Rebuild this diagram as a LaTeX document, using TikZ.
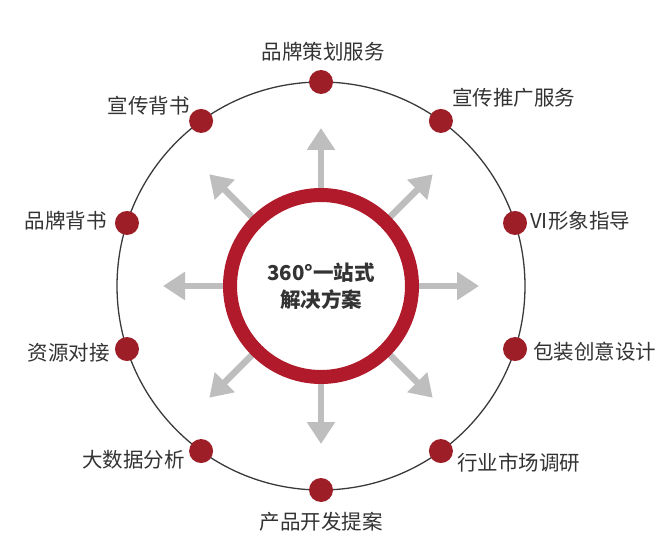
\documentclass[tikz,border=0pt]{standalone}
\usepackage{fontspec}
\setmainfont{Noto Sans CJK SC}
\newfontfamily\cjk{Noto Sans CJK SC}
\usetikzlibrary{arrows.meta}
\definecolor{ringred}{HTML}{B01A2B}
\definecolor{dotred}{HTML}{9E1E28}
\definecolor{arrowgray}{HTML}{BEBEBE}
\definecolor{txt}{HTML}{333333}
\definecolor{circ}{HTML}{3A3A3A}
\tikzset{
  dotnode/.style={circle,fill=dotred,minimum size=24pt,inner sep=0pt},
  lbl/.style={inner sep=0pt,text=txt,font=\cjk\fontsize{20.5}{24}\selectfont},
  ray/.style={draw=arrowgray,line width=6.5pt,-{Triangle[width=27pt,length=22pt]}},
  hub/.style={circle,draw=ringred,line width=14pt,minimum size=182pt,inner sep=0pt,fill=white,
    font=\cjk\bfseries\fontsize{20.5}{27}\selectfont,text=txt,align=center}
}
\begin{document}
\begin{tikzpicture}[x=1pt,y=-1pt]
\useasboundingbox (0,0) rectangle (664,556);
\fill[white] (0,0) rectangle (664,556);
\coordinate (C) at (321,286);
\draw[circ,line width=1.3pt] (C) circle[radius=204];
% arrows
\foreach \a in {0,45,...,315}{
  \coordinate (e\a) at ({321+158*cos(\a)},{286-158*sin(\a)});
  \coordinate (b\a) at ({321+96*cos(\a)},{286-96*sin(\a)});
  \draw[ray] (b\a) -- (e\a);
}
\node[hub] (hub) at (C) {360°一站式\\解决方案};
% dots
\foreach \i/\a in {1/90,2/54,3/18,4/-18,5/-54,6/-90,7/-126,8/-162,9/162,10/126}{
  \node[dotnode] (d\i) at ({321+204*cos(\a)},{286-204*sin(\a)}) {};
}
\node[lbl,anchor=center] (l1) at (323,52) {品牌策划服务};
\node[lbl,anchor=west] (l2) at (452,98) {宣传推广服务};
\node[lbl,anchor=west] (l3) at (530,221) {VI形象指导};
\node[lbl,anchor=west] (l4) at (533,352) {包装创意设计};
\node[lbl,anchor=west] (l5) at (457,463) {行业市场调研};
\node[lbl,anchor=center] (l6) at (321,522) {产品开发提案};
\node[lbl,anchor=east] (l7) at (185,460) {大数据分析};
\node[lbl,anchor=east] (l8) at (110,353) {资源对接};
\node[lbl,anchor=east] (l9) at (107,221) {品牌背书};
\node[lbl,anchor=east] (l10) at (190,106) {宣传背书};
\end{tikzpicture}
\end{document}
